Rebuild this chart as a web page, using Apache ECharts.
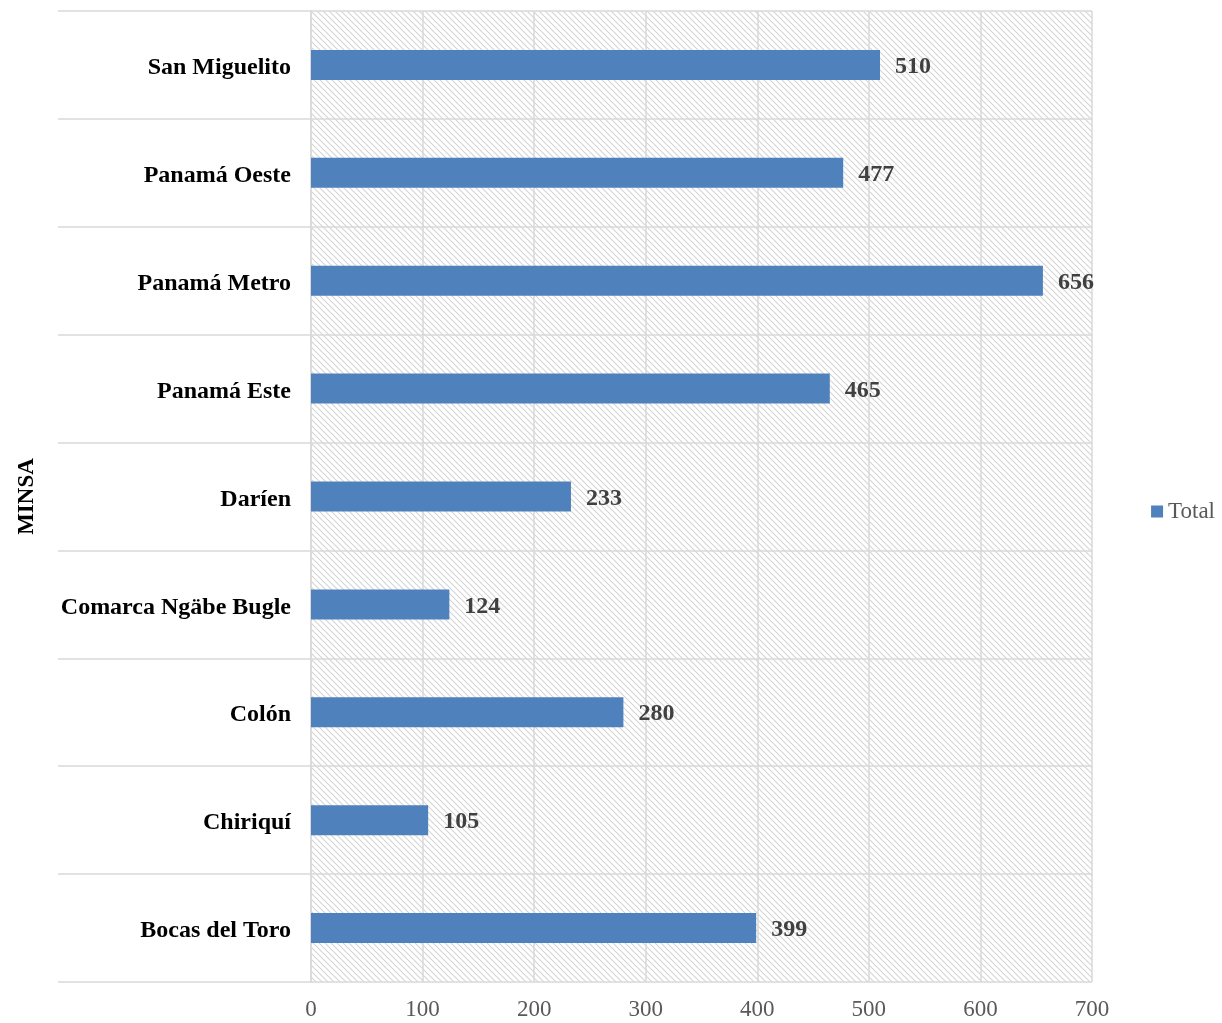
<!DOCTYPE html>
<html>
<head>
<meta charset="utf-8">
<script src="https://cdn.jsdelivr.net/npm/echarts@6/dist/echarts.min.js"></script>
<style>
html,body{margin:0;padding:0;background:#fff;}
#chart{width:1222px;height:1023px;}
</style>
</head>
<body>
<div id="chart"></div>
<script>
const categories = ["San Miguelito","Panamá Oeste","Panamá Metro","Panamá Este","Daríen","Comarca Ngäbe Bugle","Colón","Chiriquí","Bocas del Toro"];
const totals = [510, 477, 656, 465, 233, 124, 280, 105, 399];
const xTicks = [0, 100, 200, 300, 400, 500, 600, 700];

function makeHatch() {
  const c = document.createElement('canvas');
  const s = 6;
  c.width = s; c.height = s;
  const ctx = c.getContext('2d');
  ctx.strokeStyle = '#d4d4d4';
  ctx.lineWidth = 1.1;
  ctx.beginPath();
  ctx.moveTo(-1, -1); ctx.lineTo(s + 1, s + 1);
  ctx.moveTo(-1 - s, -1); ctx.lineTo(1, s + 1);
  ctx.moveTo(s - 1, -1); ctx.lineTo(2 * s + 1, s + 1);
  ctx.stroke();
  return c;
}

const chart = echarts.init(document.getElementById('chart'), null, {renderer: 'canvas'});
const font = '"Liberation Serif", "Times New Roman", serif';
chart.setOption({
  animation: false,
  textStyle: {fontFamily: font},
  grid: {
    left: 311, right: 130, top: 11, bottom: 41,
    show: true, borderWidth: 0,
    backgroundColor: {image: makeHatch(), repeat: 'repeat'}
  },
  legend: {
    right: 2, top: 'middle', orient: 'vertical',
    itemWidth: 12, itemHeight: 12, itemGap: 6,
    icon: 'rect',
    textStyle: {fontFamily: font, fontSize: 23, color: '#595959'},
    data: ['Total']
  },
  xAxis: {
    type: 'value', min: 0, max: 700, interval: 100,
    axisLine: {show: false}, axisTick: {show: false},
    axisLabel: {fontFamily: font, fontSize: 23, color: '#595959', margin: 16,
      formatter: v => xTicks.includes(v) ? String(v) : ''},
    splitLine: {show: true, lineStyle: {color: '#d9d9d9', width: 1.5}}
  },
  yAxis: {
    type: 'category', data: categories, inverse: true,
    name: 'MINSA', nameLocation: 'middle', nameGap: 272, nameRotate: 90,
    nameTextStyle: {fontFamily: font, fontSize: 23, fontWeight: 'bold', color: '#000'},
    axisLine: {show: true, lineStyle: {color: '#d9d9d9', width: 1.5}},
    axisTick: {show: true, length: 253, interval: 0, lineStyle: {color: '#d9d9d9', width: 1.5}},
    axisLabel: {fontFamily: font, fontSize: 24, fontWeight: 'bold', color: '#000', margin: 20,
      formatter: v => '{a|' + v + '}',
      rich: {a: {fontFamily: font, fontSize: 24, fontWeight: 'bold', color: '#000',
        padding: [6, 0, 0, 0]}}},
    splitLine: {show: true, interval: 0, lineStyle: {color: '#d9d9d9', width: 1.5}}
  },
  series: [{
    name: 'Total', type: 'bar', data: totals, barWidth: 30,
    itemStyle: {color: '#4f81bd'},
    label: {show: true, position: 'right', distance: 15, offset: [0, 2],
      fontFamily: font, fontSize: 24, fontWeight: 'bold', color: '#404040'}
  }]
});
</script>
</body>
</html>
